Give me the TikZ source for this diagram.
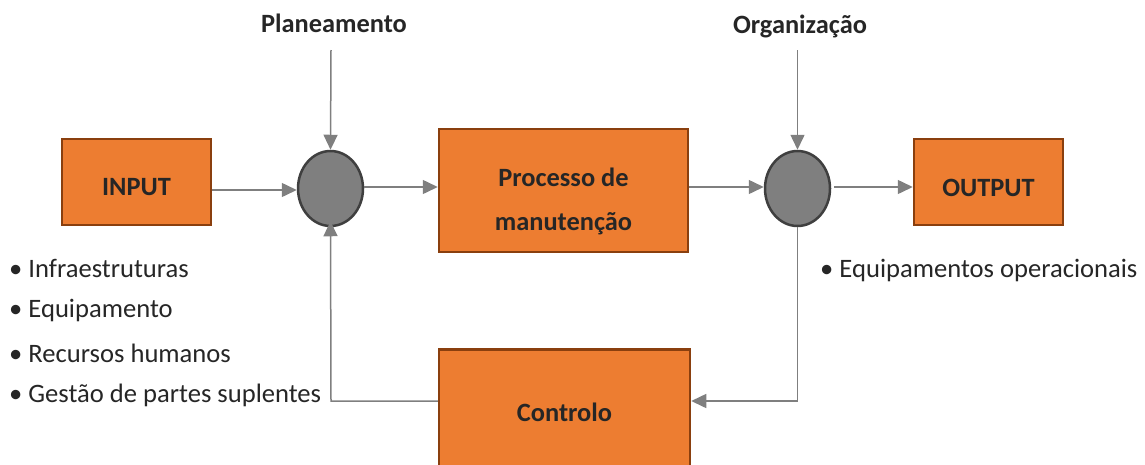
\documentclass[tikz,border=0pt]{standalone}
\usepackage{fontspec}
\setmainfont{Carlito}
\usetikzlibrary{shapes.geometric,arrows.meta}
\definecolor{org}{HTML}{ED7D31}
\definecolor{orgdark}{HTML}{8A3F0E}
\definecolor{circfill}{HTML}{7F7F7F}
\definecolor{circline}{HTML}{3F3F3F}
\definecolor{arr}{HTML}{7F7F7F}
\definecolor{txt}{HTML}{262626}
\tikzset{
  box/.style={draw=orgdark, line width=2.5pt, fill=org, rectangle, inner sep=0pt},
  boxtext/.style={font=\fontsize{26.4}{31}\selectfont\bfseries, text=txt, anchor=base, inner sep=0pt},
  junction/.style={draw=circline, line width=2.5pt, fill=circfill, ellipse, inner sep=0pt,
    minimum width=65pt, minimum height=75pt},
  conn/.style={draw=arr, line width=1.5pt, -{Triangle[length=15pt,width=14pt]}},
  toplabel/.style={font=\fontsize{26.4}{30}\selectfont\bfseries, text=txt},
  item/.style={font=\fontsize{26.6}{31}\selectfont, text=txt, anchor=west, inner sep=0pt},
}
\begin{document}
\begin{tikzpicture}[x=1pt,y=-1pt]
\useasboundingbox (0,0) rectangle (1145,464);
\clip (0,0) rectangle (1145,464);
% boxes
\node[box, minimum width=149pt, minimum height=86pt] (in) at (136.5,182) {};
\node[boxtext] (intxt) at (136.5,195) {INPUT};
\node[box, minimum width=249pt, minimum height=123pt] (proc) at (563.5,190.5) {};
\node[boxtext] (proctxt1) at (563.5,186) {Processo de};
\node[boxtext] (proctxt2) at (563.5,230) {manutenção};
\node[box, minimum width=149pt, minimum height=86pt] (out) at (988.5,182) {};
\node[boxtext] (outtxt) at (988.5,196) {OUTPUT};
\node[box, minimum width=251pt, minimum height=150pt, anchor=north] (ctrl) at (564.5,348) {};
\node[boxtext] (ctrltxt) at (564.5,421) {Controlo};
% junctions
\node[junction] (j1) at (330.5,188.5) {};
\node[junction] (j2) at (797.5,188.5) {};
% top labels
\node[toplabel] (plan) at (334,23) {Planeamento};
\node[toplabel] (orgz) at (800,26) {Organização};
\coordinate (plantop) at (331,50);
\coordinate (orgtop) at (797.5,50);
\draw[conn] (plantop) -- (j1.north);
\draw[conn] (orgtop) -- (j2.north);
% main flow
\draw[conn] (in.east |- 0,190) -- (j1.west |- 0,190);
\draw[conn] (j1.east |- 0,187) -- (proc.west |- 0,187);
\draw[conn] (proc.east |- 0,187) -- (j2.west |- 0,187);
\draw[conn] ([xshift=3pt]j2.east |- 0,187) -- (out.west |- 0,187);
% feedback
\coordinate (fbr) at (797.5,401);
\coordinate (fbl) at (331,401);
\draw[conn] (j2.south) -- (fbr) -- (ctrl.east |- fbr);
\draw[conn] (ctrl.west |- fbl) -- (fbl) -- ([yshift=6pt]j1.south);
% bullets
\node[item] (b1) at (9,268) {\textbullet\ Infraestruturas};
\node[item] (b2) at (9,310) {\textbullet\ Equipamento};
\node[item] (b3) at (9,353) {\textbullet\ Recursos humanos};
\node[item] (b4) at (9,395) {\textbullet\ Gestão de partes suplentes};
\node[item] (b5) at (820,270) {\textbullet\ Equipamentos operacionais};
\end{tikzpicture}
\end{document}
